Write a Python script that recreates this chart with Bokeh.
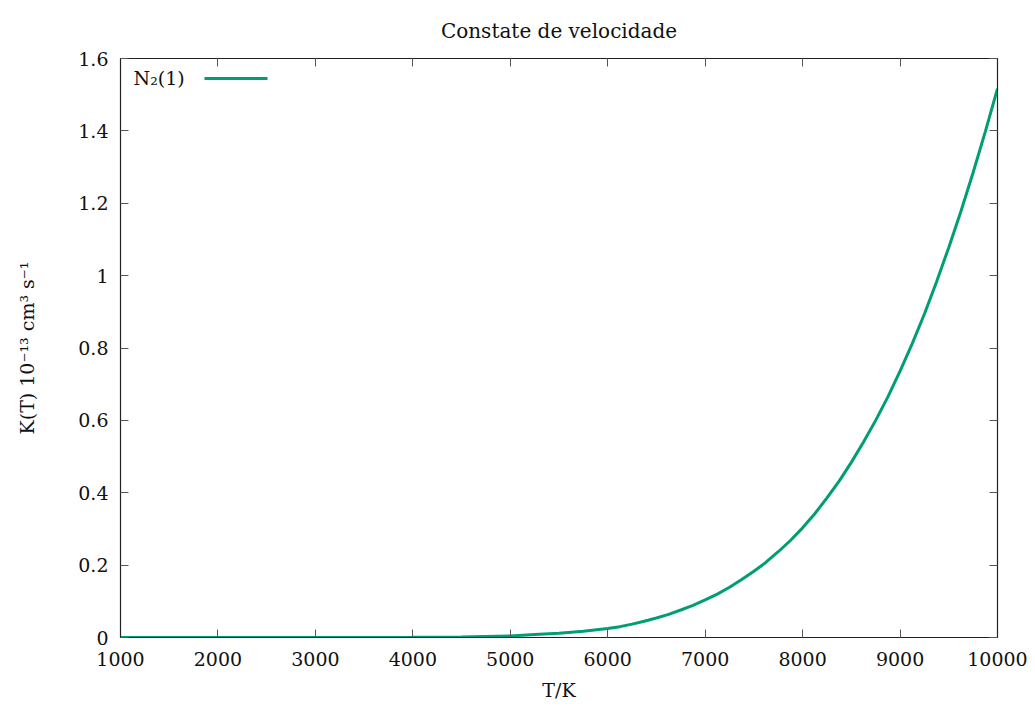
from bokeh.plotting import figure
from bokeh.models import (Range1d, LinearAxis, FixedTicker, Label, BoxAnnotation)
from bokeh.embed import file_html
from bokeh.resources import INLINE

# ---- data ----
temperature = [1000, 2000, 3000, 4000, 4500, 5000, 5250, 5500, 5750, 6000, 6125,
               6250, 6375, 6500, 6625, 6750, 6875, 7000, 7125, 7250, 7375, 7500,
               7625, 7750, 7875, 8000, 8125, 8250, 8375, 8500, 8625, 8750, 8875,
               9000, 9125, 9250, 9375, 9500, 9625, 9750, 9875, 10000]
rate_n2 = [0.0, 0.0, 0.0, 0.0004, 0.0015, 0.004, 0.008, 0.012, 0.017, 0.025, 0.030,
           0.037, 0.045, 0.054, 0.064, 0.076, 0.089, 0.104, 0.120, 0.139, 0.160, 0.183,
           0.208, 0.237, 0.268, 0.303, 0.342, 0.386, 0.432, 0.484, 0.540, 0.600, 0.665,
           0.736, 0.812, 0.894, 0.983, 1.078, 1.178, 1.285, 1.398, 1.517]
x_ticks = [1000, 2000, 3000, 4000, 5000, 6000, 7000, 8000, 9000, 10000]
y_ticks = [0, 0.2, 0.4, 0.6, 0.8, 1, 1.2, 1.4, 1.6]
y_tick_labels = ["0", "0.2", "0.4", "0.6", "0.8", "1", "1.2", "1.4", "1.6"]
title_text = "Constate de velocidade"
x_label = "T/K"
y_label = "K(T) 10\u207b\u00b9\u00b3 cm\u00b3 s\u207b\u00b9"
series_label = "N\u2082(1)"

FONT = "DejaVu Serif"
FS = "19px"
GREEN = "#009e73"

p = figure(width=1035, height=706, output_backend="svg", toolbar_location=None,
           x_range=Range1d(1000, 10000), y_range=Range1d(0, 1.6),
           min_border_left=120, min_border_right=38, min_border_top=58,
           min_border_bottom=69, x_axis_location=None, y_axis_location=None)
p.background_fill_color = "white"
p.border_fill_color = "white"
p.outline_line_color = "#222222"
p.outline_line_width = 1.2
p.grid.visible = False

p.title.text = title_text
p.title.align = "center"
p.title.vertical_align = "top"
p.title.text_font = FONT
p.title.text_font_size = "20px"
p.title.text_font_style = "normal"
p.title.text_color = "#111111"
p.title.standoff = 28

overrides = {t: l for t, l in zip(y_ticks, y_tick_labels)}

def style_axis(ax, show_labels):
    ax.major_tick_in = 8
    ax.major_tick_out = 0
    ax.minor_tick_in = 0
    ax.minor_tick_out = 0
    ax.major_tick_line_color = "#555555"
    ax.axis_line_color = "#222222"
    ax.major_label_text_font = FONT
    ax.major_label_text_font_size = FS
    ax.major_label_text_color = "#111111" if show_labels else None
    ax.axis_label_text_font = FONT
    ax.axis_label_text_font_size = FS
    ax.axis_label_text_font_style = "normal"
    ax.axis_label_text_color = "#111111"

xb = LinearAxis(ticker=FixedTicker(ticks=x_ticks), axis_label=x_label)
style_axis(xb, True)
xb.major_label_standoff = 14
xb.axis_label_standoff = 10
p.add_layout(xb, "below")

xt = LinearAxis(ticker=FixedTicker(ticks=x_ticks))
style_axis(xt, False)
xt.major_label_text_font_size = "0px"
p.add_layout(xt, "above")

yl = LinearAxis(ticker=FixedTicker(ticks=y_ticks), axis_label=y_label)
yl.major_label_overrides = overrides
style_axis(yl, True)
yl.major_label_standoff = 12
yl.axis_label_standoff = 37
p.add_layout(yl, "left")

yr = LinearAxis(ticker=FixedTicker(ticks=y_ticks))
style_axis(yr, False)
yr.major_label_text_font_size = "0px"
p.add_layout(yr, "right")

p.line(temperature, rate_n2, line_color=GREEN, line_width=3)

# legend (gnuplot style: text then line sample)
p.add_layout(Label(x=13, y=560, x_units="screen", y_units="screen", text=series_label,
                   text_font=FONT, text_font_size=FS, text_baseline="middle",
                   text_align="left", text_color="#111111"))
p.add_layout(BoxAnnotation(left=84, right=147, bottom=557.5, top=560.5,
                           left_units="screen", right_units="screen",
                           bottom_units="screen", top_units="screen",
                           fill_color=GREEN, fill_alpha=1.0, line_color=None))

open("out.html", "w").write(file_html(p, INLINE))
